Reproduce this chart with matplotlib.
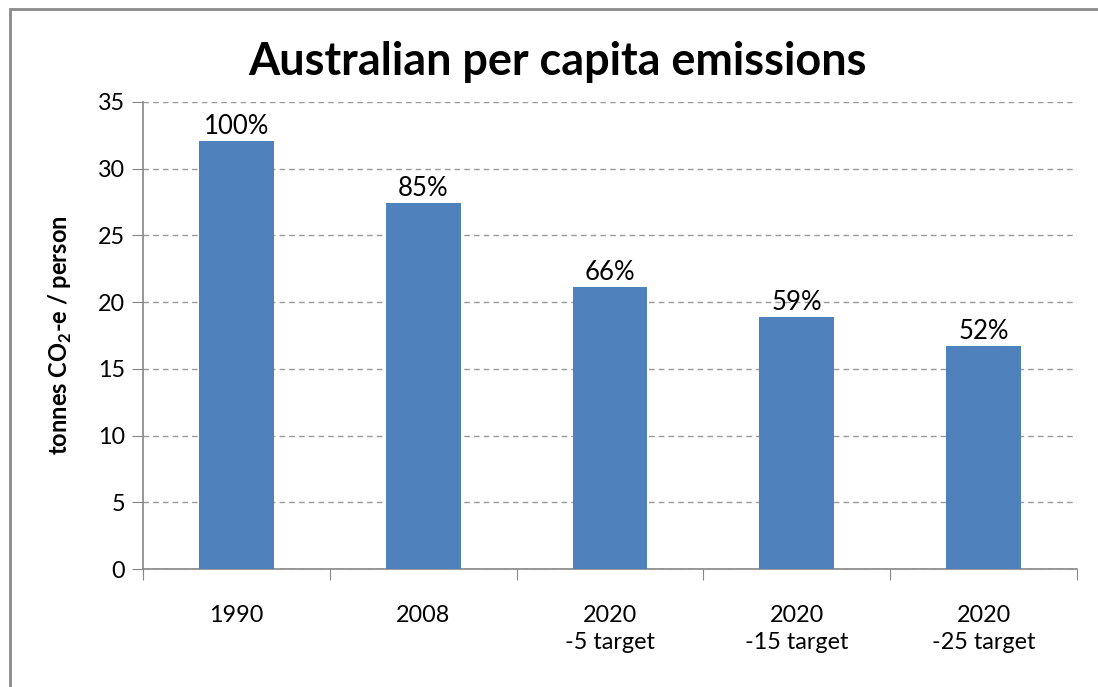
import matplotlib.pyplot as plt
from matplotlib.patches import Rectangle

plt.rcParams['font.family'] = ['Lato', 'DejaVu Sans']
plt.rcParams['mathtext.fontset'] = 'custom'
plt.rcParams['mathtext.rm'] = 'Lato:bold'
plt.rcParams['mathtext.bf'] = 'Lato:bold'

categories = ['1990', '2008', '2020\n-5 target', '2020\n-15 target', '2020\n-25 target']
values = [32.1, 27.4, 21.1, 18.9, 16.7]
pct_labels = ['100%', '85%', '66%', '59%', '52%']

fig = plt.figure(figsize=(10.98, 6.87), dpi=100)
ax = fig.add_axes([143/1098, 1 - 569/687, 934/1098, 467/687])

x = range(len(categories))
bars = ax.bar(x, values, width=0.4, color='#4f81bd', zorder=3)
for b, lab in zip(bars, pct_labels):
    ax.text(b.get_x() + b.get_width()/2, b.get_height() + 0.15, lab,
            ha='center', va='bottom', fontsize=18.5, zorder=4)

ax.set_xlim(-0.5, len(categories) - 0.5)
ax.set_ylim(0, 35)
ax.set_yticks(range(0, 36, 5))
ax.set_xticks([i - 0.5 for i in range(len(categories) + 1)], minor=False)
ax.set_xticklabels([])
ax.set_xticks(list(x), minor=True)
ax.set_xticklabels(categories, minor=True, fontsize=16.8, linespacing=1.35)
ax.tick_params(axis='x', which='minor', length=0, pad=26)
ax.tick_params(axis='x', which='major', length=8, color='#868686', direction='out')
ax.tick_params(axis='y', length=8, color='#868686', labelsize=16.8, pad=5)

ax.yaxis.grid(True, linestyle=(0, (4, 3)), color='#999999', linewidth=1, zorder=0)
for s in ['top', 'right']:
    ax.spines[s].set_visible(False)
for s in ['left', 'bottom']:
    ax.spines[s].set_color('#868686')
    ax.spines[s].set_linewidth(1.2)

ax.set_ylabel(r'tonnes CO$_\mathbf{2}$-e / person', fontsize=17, fontweight='bold', labelpad=17)

fig.text(557/1098, 1 - 62/687, 'Australian per capita emissions', ha='center', va='center',
         fontsize=32.4, fontweight='bold')

fig.patches.append(Rectangle((10/1098, -0.05), 1.1, 1 - 9/687 + 0.05, transform=fig.transFigure,
                             fill=False, edgecolor='#8a8a8a', linewidth=2))

fig.savefig('out.png', dpi=100)
